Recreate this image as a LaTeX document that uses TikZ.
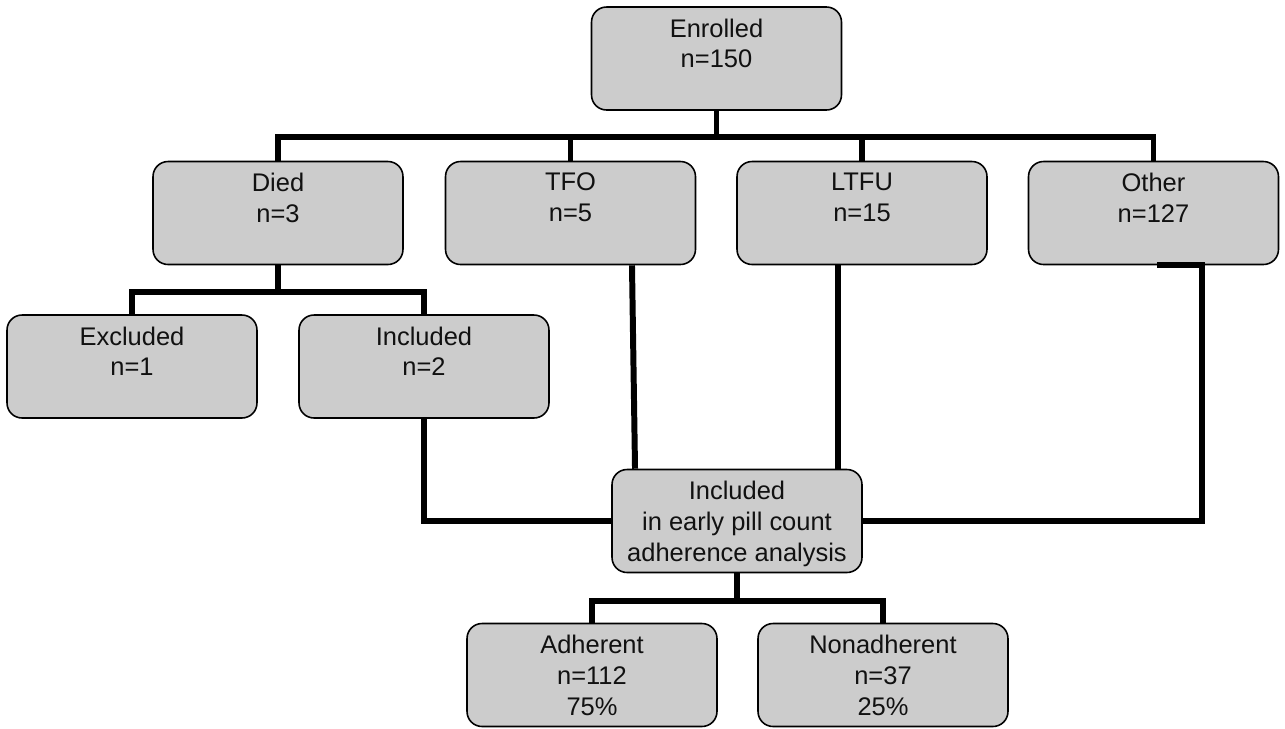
\documentclass[tikz,border=0pt]{standalone}
\usepackage{fontspec}
\setmainfont{Liberation Sans}
\definecolor{boxgray}{HTML}{CCCCCC}
\definecolor{txtc}{HTML}{111111}
\tikzset{
  box/.style={draw=black, line width=0.9pt, fill=boxgray, rounded corners=0.3cm,
    minimum width=5cm, minimum height=2.06cm, inner sep=0pt},
  lbl/.style={anchor=north, align=center, inner sep=0pt, text=txtc,
    font=\fontsize{14.5}{17.6}\selectfont, yshift=-0.24cm},
  conn/.style={line width=3.4pt, line join=miter, draw=black}
}
\begin{document}
\begin{tikzpicture}[x=0.02cm, y=-0.02cm]
\useasboundingbox (0,0) rectangle (1285,728);
% boxes
\node[box] (enr) at (716.5,58.5) {};
\node[box] (died) at (278,213) {};
\node[box] (tfo) at (570.5,213) {};
\node[box] (ltfu) at (862,213) {};
\node[box] (oth) at (1153.5,213) {};
\node[box] (excl) at (132,366.5) {};
\node[box] (inc) at (424,366.5) {};
\node[box] (cen) at (737,521) {};
\node[box] (adh) at (592,675) {};
\node[box] (non) at (883,675) {};
% labels
\node[lbl] (tenr) at (enr.north) {Enrolled\\n=150};
\node[lbl] (tdied) at (died.north) {Died\\n=3};
\node[lbl] (ttfo) at (tfo.north) {TFO\\n=5};
\node[lbl] (tltfu) at (ltfu.north) {LTFU\\n=15};
\node[lbl] (toth) at (oth.north) {Other\\n=127};
\node[lbl] (texcl) at (excl.north) {Excluded\\n=1};
\node[lbl] (tinc) at (inc.north) {Included\\n=2};
\node[lbl] (tcen) at (cen.north) {Included\\in early pill count\\adherence analysis};
\node[lbl] (tadh) at (adh.north) {Adherent\\n=112\\75\%};
\node[lbl] (tnon) at (non.north) {Nonadherent\\n=37\\25\%};
% connectors
\coordinate (bus) at (0,137);
\draw[conn] (died.north) -- (died.north |- bus) -| (oth.north);
\draw[conn] (enr.south) -- (enr.south |- bus);
\draw[conn] (tfo.north) -- (tfo.north |- bus);
\draw[conn] (ltfu.north) -- (ltfu.north |- bus);
\coordinate (dbus) at (0,292);
\draw[conn] (excl.north) -- (excl.north |- dbus) -| (inc.north);
\draw[conn] (died.south) -- (died.south |- dbus);
\draw[conn] (inc.south) |- (cen.west);
\draw[conn] ([xshift=1.23cm]tfo.south) -- ([xshift=-2.04cm]cen.north);
\draw[conn] ([xshift=-0.48cm]ltfu.south) -- ([xshift=-0.48cm]ltfu.south |- cen.north);
\coordinate (ocorner) at ([xshift=0.97cm]oth.south);
\draw[conn] ([xshift=0.07cm]oth.south) -- (ocorner) |- (cen.east);
\coordinate (abus) at (0,601);
\draw[conn] (adh.north) -- (adh.north |- abus) -| (non.north);
\draw[conn] (cen.south) -- (cen.south |- abus);
\end{tikzpicture}
\end{document}
